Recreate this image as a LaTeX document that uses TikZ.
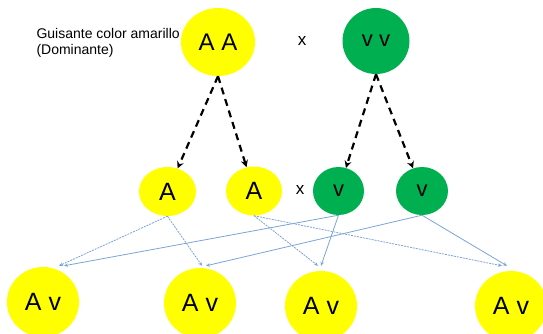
\documentclass[tikz,border=0pt]{standalone}
\usepackage{fontspec}
\setmainfont{Liberation Sans}
\usetikzlibrary{arrows.meta,shapes.geometric}
\definecolor{peayellow}{HTML}{FFFF00}
\definecolor{peagreen}{HTML}{00B050}
\definecolor{crossblue}{HTML}{7BA3D6}
\tikzset{
  pea/.style={ellipse,inner sep=0pt,text=black},
  yellowpea/.style={pea,fill=peayellow},
  greenpea/.style={pea,fill=peagreen},
  parentarrow/.style={line width=2.2pt,dash pattern=on 7pt off 5pt,-{Stealth[length=7pt,width=7pt]}},
  crossA/.style={crossblue,line width=0.8pt,dash pattern=on 2pt off 1pt,-{Stealth[length=4pt,width=3.5pt]}},
  crossv/.style={crossblue,line width=0.8pt,-{Stealth[length=4pt,width=3.5pt]}}
}
\begin{document}
\begin{tikzpicture}[x=1pt,y=-1pt]
  \clip (0,0) rectangle (543,333);
  % parents
  \node[yellowpea,minimum width=74pt,minimum height=68pt,font=\fontsize{24}{24}\selectfont] (aa) at (218,42) {A A};
  \node[greenpea,minimum width=67pt,minimum height=66pt,font=\fontsize{22}{22}\selectfont] (vv) at (376,41) {v v};
  \node[anchor=west,align=left,font=\fontsize{14}{16.5}\selectfont] (lbl) at (33,43) {Guisante color amarillo\\(Dominante)};
  \node[font=\fontsize{17}{17}\selectfont] (x1) at (302,41) {x};
  % gametes
  \node[yellowpea,minimum width=57pt,minimum height=49pt,font=\fontsize{25}{25}\selectfont] (a1) at (167.5,191.5) {A};
  \node[yellowpea,minimum width=56pt,minimum height=49pt,font=\fontsize{25}{25}\selectfont] (a2) at (254,191) {A};
  \node[font=\fontsize{17}{17}\selectfont] (x2) at (300,190) {x};
  \node[greenpea,minimum width=51pt,minimum height=48pt,font=\fontsize{22}{22}\selectfont] (v1) at (338.5,191) {v};
  \node[greenpea,minimum width=52pt,minimum height=48pt,font=\fontsize{22}{22}\selectfont] (v2) at (422,191) {v};
  % offspring
  \foreach \n/\x/\y in {av1/43/302,av2/200/303,av3/321/306,av4/511/306}
    \node[yellowpea,minimum width=72pt,minimum height=70pt,font=\fontsize{25}{25}\selectfont] (\n) at (\x,\y) {A v};
  % dashed arrows
  \draw[parentarrow] (aa.south) -- (a1);
  \draw[parentarrow] (aa.south) -- (a2);
  \draw[parentarrow] (vv.south) -- (v1);
  \draw[parentarrow] (vv.south) -- (v2);
  % crossings
  \draw[crossA] (a1.south) -- ([xshift=16pt,yshift=1pt]av1.north);
  \draw[crossA] (a1.south) -- ([xshift=2pt,yshift=2pt]av2.north);
  \draw[crossA] (a2.south) -- ([xshift=-3pt,yshift=5pt]av3.north);
  \draw[crossA] (a2.south) -- ([xshift=-9pt,yshift=5pt]av4.north);
  \draw[crossv] (v1.south) -- ([xshift=21pt,yshift=1pt]av1.north);
  \draw[crossv] (v1.south) -- ([xshift=0pt,yshift=5pt]av3.north);
  \draw[crossv] (v2.south) -- ([xshift=6pt,yshift=2pt]av2.north);
  \draw[crossv] (v2.south) -- ([xshift=-4pt,yshift=5pt]av4.north);
\end{tikzpicture}
\end{document}
